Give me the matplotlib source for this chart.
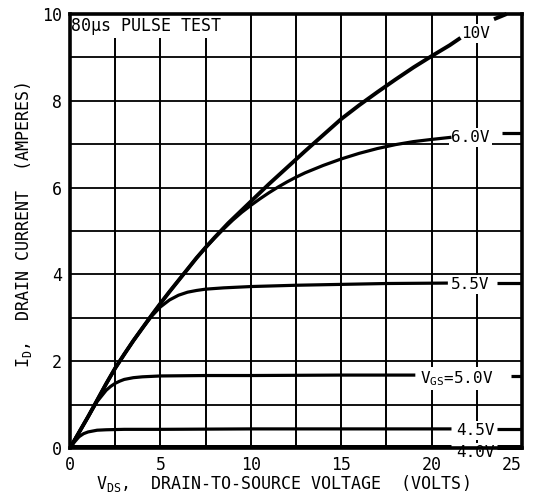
import matplotlib
matplotlib.use("Agg")
import matplotlib.pyplot as plt

plt.rcParams['font.family'] = ['DejaVu Sans Mono']
plt.rcParams['mathtext.fontset'] = 'custom'
plt.rcParams['mathtext.rm'] = 'DejaVu Sans Mono'
plt.rcParams['mathtext.it'] = 'DejaVu Sans Mono'
plt.rcParams['mathtext.bf'] = 'DejaVu Sans Mono'

# ---- data ----
vds_10v = [0, 0.5, 1, 1.5, 2, 2.5, 3, 3.5, 4, 4.5, 5, 5.5, 6, 6.5, 7, 7.5, 8, 8.75, 9.5, 10,
           11, 12, 13, 14, 15, 16, 17, 18, 19, 20, 21, 21.6]
id_10v = [0, 0.36, 0.72, 1.1, 1.48, 1.84, 2.16, 2.47, 2.76, 3.05, 3.33, 3.6, 3.86, 4.12, 4.38,
          4.62, 4.85, 5.18, 5.48, 5.68, 6.08, 6.46, 6.84, 7.21, 7.58, 7.9, 8.2, 8.49, 8.77, 9.03,
          9.28, 9.45]

vds_6v = [0, 0.5, 1, 1.5, 2, 2.5, 3, 3.5, 4, 4.5, 5, 5.5, 6, 6.5, 7, 7.5, 8, 8.5, 9, 9.5, 10,
          10.5, 11, 11.5, 12, 12.5, 13, 14, 15, 16, 17, 18, 19, 20, 21.1]
id_6v = [0, 0.36, 0.72, 1.1, 1.48, 1.84, 2.16, 2.47, 2.76, 3.05, 3.33, 3.6, 3.86, 4.12, 4.38,
         4.62, 4.84, 5.05, 5.25, 5.43, 5.59, 5.74, 5.88, 6.01, 6.13, 6.24, 6.34, 6.51, 6.66,
         6.79, 6.9, 6.99, 7.06, 7.11, 7.16]

vds_55v = [0, 0.5, 1, 1.5, 2, 2.5, 3, 3.5, 4, 4.5, 5, 5.5, 6, 6.5, 7, 7.5, 8.5, 10, 12.5, 15,
           17.5, 20.9]
id_55v = [0, 0.36, 0.72, 1.1, 1.48, 1.84, 2.16, 2.47, 2.76, 3.03, 3.25, 3.41, 3.52, 3.59, 3.63,
          3.66, 3.69, 3.72, 3.75, 3.77, 3.79, 3.8]

vds_5v = [0, 0.5, 1, 1.5, 2, 2.25, 2.5, 2.75, 3, 3.5, 4, 5, 7.5, 10, 15, 19.1]
id_5v = [0, 0.36, 0.72, 1.07, 1.33, 1.42, 1.49, 1.54, 1.58, 1.62, 1.64, 1.66, 1.67, 1.67, 1.68,
         1.68]

vds_45v = [0, 0.25, 0.5, 0.75, 1, 1.25, 1.5, 2, 3, 5, 10, 15, 21.1]
id_45v = [0, 0.14, 0.26, 0.33, 0.37, 0.39, 0.41, 0.42, 0.43, 0.43, 0.44, 0.44, 0.44]

vds_4v = [0, 21.1]
id_4v = [0.02, 0.02]

# short segments to the right of the curve labels
stub_10v = ([23.45, 24.15], [9.88, 10.0])
stub_6v = ([23.9, 25], [7.25, 7.25])
stub_55v = ([23.6, 25], [3.8, 3.8])
stub_5v = ([24.4, 25], [1.67, 1.67])
stub_45v = ([23.6, 25], [0.44, 0.44])
stub_4v = ([23.6, 25], [0.02, 0.02])

x_ticks = [0, 5, 10, 15, 20, 25]
y_ticks = [0, 2, 4, 6, 8, 10]
x_grid = [2.5, 5, 7.5, 10, 12.5, 15, 17.5, 20, 22.5]
y_grid = [1, 2, 3, 4, 5, 6, 7, 8, 9]

labels = ['10V', '6.0V', '5.5V', r'V$_{\mathrm{GS}}$=5.0V', '4.5V', '4.0V']
label_x = [21.63, 21.07, 21.07, 19.36, 21.35, 21.35]
label_y = [9.59, 7.19, 3.8, 1.66, 0.44, -0.06]

# ---- figure ----
fig = plt.figure(figsize=(5.34, 5.0), dpi=100)
ax = fig.add_axes([70/534, 52/500, 452/534, 434/500])
ax.set_xlim(0, 25)
ax.set_ylim(0, 10)

for xg in x_grid:
    ax.axvline(xg, color='black', lw=1.4, zorder=1)
for yg in y_grid:
    ax.axhline(yg, color='black', lw=1.3, zorder=1)

curves = [(vds_10v, id_10v, 2.8), (vds_6v, id_6v, 2.3), (vds_55v, id_55v, 2.3),
          (vds_5v, id_5v, 2.3), (vds_45v, id_45v, 2.3), (vds_4v, id_4v, 3.6)]
for xs, ys, lw in curves:
    ax.plot(xs, ys, color='black', lw=lw, solid_capstyle='butt', solid_joinstyle='round',
            zorder=4)

stubs = [(stub_10v, 2.8), (stub_6v, 2.3), (stub_55v, 2.3), (stub_5v, 2.3),
         (stub_45v, 2.3), (stub_4v, 3.6)]
for (xs, ys), lw in stubs:
    ax.plot(xs, ys, color='black', lw=lw, solid_capstyle='butt', zorder=4, clip_on=False)

for txt, lx, ly in zip(labels, label_x, label_y):
    ax.text(lx, ly, txt, ha='left', va='center_baseline', fontsize=11.5, zorder=3,
            clip_on=False,
            bbox=dict(facecolor='white', edgecolor='none', pad=1.5))

ax.text(0.08, 9.73, '80\u03bcs PULSE TEST', ha='left', va='center', fontsize=12, zorder=3,
        bbox=dict(facecolor='white', edgecolor='none', pad=2.5))

ax.set_xticks(x_ticks)
ax.set_yticks(y_ticks)
ax.set_xticklabels([str(v) for v in x_ticks], fontsize=12)
ax.set_yticklabels([str(v) for v in y_ticks], fontsize=12)
ax.get_xticklabels()[-1].set_horizontalalignment('right')
ax.tick_params(length=0, pad=6)

for sp in ax.spines.values():
    sp.set_linewidth(2.6)
    sp.set_zorder(5)

ax.text(0.47, -0.082, r'V$_{\mathrm{DS}}$,  DRAIN-TO-SOURCE VOLTAGE  (VOLTS)',
        transform=ax.transAxes, ha='center', va='center', fontsize=12)
fig.text(24/534, 1 - 225/500, r'I$_{\mathrm{D}}$,  DRAIN CURRENT  (AMPERES)',
         rotation=90, ha='center', va='center', fontsize=12)

fig.savefig('out.png', dpi=100, facecolor='white')
